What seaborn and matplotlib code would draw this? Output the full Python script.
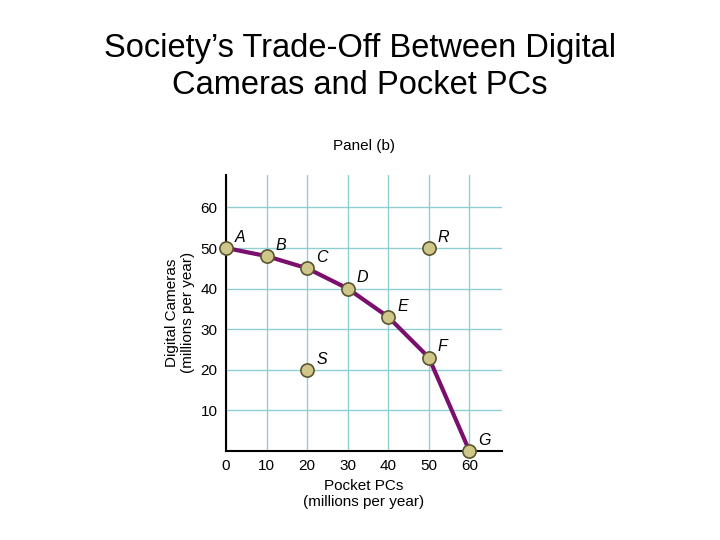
import matplotlib
matplotlib.use("Agg")
import matplotlib.pyplot as plt
import seaborn as sns

# ── Data ──────────────────────────────────────────────
frontier_labels = ["A", "B", "C", "D", "E", "F", "G"]
pocket_pcs      = [0, 10, 20, 30, 40, 50, 60]
cameras         = [50, 48, 45, 40, 33, 23, 0]
other_labels    = ["R", "S"]
other_pcs       = [50, 20]
other_cameras   = [50, 20]

sns.set_theme(style="white")
plt.rcParams["font.family"] = ["Liberation Sans", "DejaVu Sans"]
plt.rcParams["text.color"] = "black"
plt.rcParams["axes.labelcolor"] = "black"
plt.rcParams["xtick.color"] = "black"
plt.rcParams["ytick.color"] = "black"

fig = plt.figure(figsize=(7.2, 5.4), dpi=100)
ax = fig.add_axes([0.314, 0.165, 0.383, 0.511])

sns.lineplot(x=pocket_pcs, y=cameras, ax=ax, color="#7a0f6e", linewidth=3, zorder=3)
pts_x = pocket_pcs + other_pcs
pts_y = cameras + other_cameras
ax.scatter(pts_x, pts_y, s=90, color="#cfc78a", edgecolor="#5a5530",
           linewidth=1.2, zorder=4, clip_on=False)
for lab, x, y in zip(frontier_labels + other_labels, pts_x, pts_y):
    ax.text(x + 2.2, y + 1.5, lab, fontsize=11.5, style="italic", zorder=5)

ax.set_xlim(0, 68)
ax.set_ylim(0, 68)
ax.set_xticks([0, 10, 20, 30, 40, 50, 60])
ax.set_yticks([10, 20, 30, 40, 50, 60])
ax.tick_params(labelsize=11, length=0, pad=6)
ax.grid(True, color="#8fcfd2", linewidth=1)
for s in ["top", "right"]:
    ax.spines[s].set_visible(False)
for s in ["left", "bottom"]:
    ax.spines[s].set_color("black")
    ax.spines[s].set_linewidth(1.5)

ax.set_xlabel("Pocket PCs\n(millions per year)", fontsize=11)
ax.set_ylabel("Digital Cameras\n(millions per year)", fontsize=11)
ax.set_title("Panel (b)", fontsize=11, pad=18)

fig.text(0.5, 0.875, "Society\u2019s Trade-Off Between Digital\nCameras and Pocket PCs",
         ha="center", va="center", fontsize=23.5, linespacing=1.25)

fig.savefig("out.png", dpi=100)
